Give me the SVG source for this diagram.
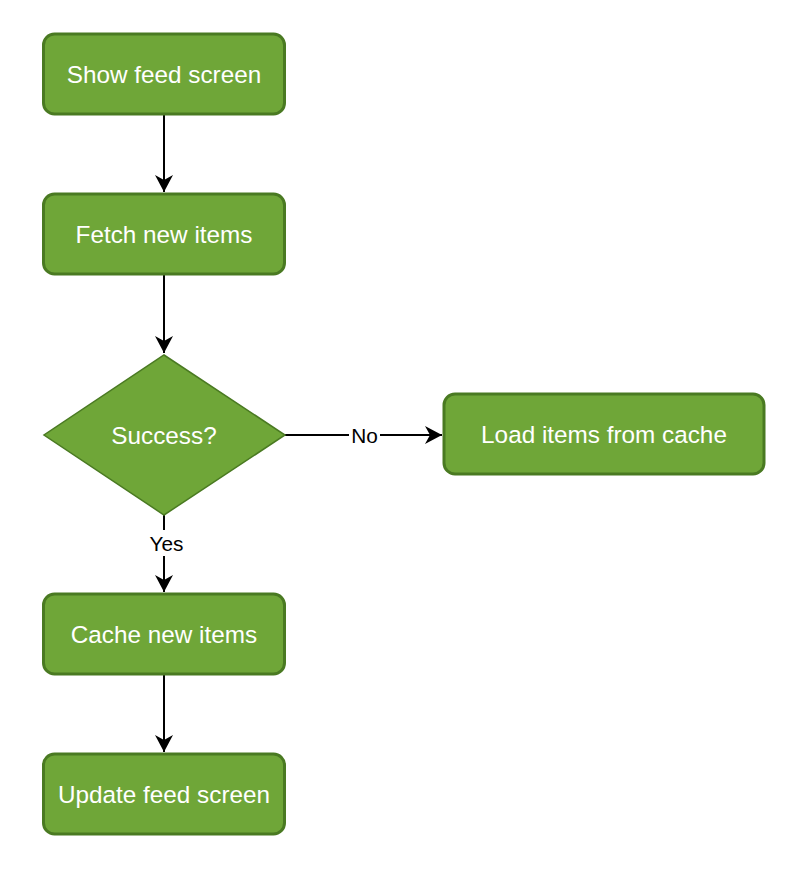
<svg xmlns="http://www.w3.org/2000/svg" width="792" height="872" viewBox="0 0 792 872">
<style>
.box{fill:#6fa638;stroke:#4a7a22;stroke-width:3}
.dia{fill:#6fa638;stroke:#4a7a22;stroke-width:1.5}
.t{font-family:"Liberation Sans",Arial,sans-serif;font-size:24.3px;fill:#fff;text-anchor:middle}
.lbl{font-family:"Liberation Sans",Arial,sans-serif;font-size:20.8px;fill:#000;text-anchor:middle}
.edge{stroke:#000;stroke-width:2;fill:none}
</style>
<defs>
<marker id="arr" markerUnits="userSpaceOnUse" viewBox="-18 -10 20 20" refX="0" refY="0" markerWidth="20" markerHeight="20" orient="auto">
<path d="M0,0 L-17,-9 L-12,0 L-17,9 Z" fill="#000"/>
</marker>
</defs>
<rect width="792" height="872" fill="#fff"/>
<g id="connectors">
<path class="edge" d="M164,114 V192" marker-end="url(#arr)"/>
<path class="edge" d="M164,274 V353" marker-end="url(#arr)"/>
<path class="edge" d="M285,435 H442" marker-end="url(#arr)"/>
<path class="edge" d="M164,515 V592" marker-end="url(#arr)"/>
<path class="edge" d="M164,674 V752" marker-end="url(#arr)"/>
<rect x="349" y="423" width="31" height="24" fill="#fff"/>
<text class="lbl" x="364.5" y="442.5">No</text>
<rect x="148" y="530" width="34" height="26" fill="#fff"/>
<text class="lbl" x="166.5" y="550.5">Yes</text>
</g>
<g id="show-feed">
<rect class="box" x="43.5" y="34" width="241" height="80" rx="11"/>
<text class="t" x="164" y="82.5">Show feed screen</text>
</g>
<g id="fetch-items">
<rect class="box" x="43.5" y="194" width="241" height="80" rx="11"/>
<text class="t" x="164" y="242.5">Fetch new items</text>
</g>
<g id="success">
<path class="dia" d="M164,355 L285,435 L164,515 L44,435 Z"/>
<text class="t" x="164" y="443.5">Success?</text>
</g>
<g id="load-cache">
<rect class="box" x="444" y="394" width="320" height="80" rx="11"/>
<text class="t" x="604" y="442.5">Load items from cache</text>
</g>
<g id="cache-items">
<rect class="box" x="43.5" y="594" width="241" height="80" rx="11"/>
<text class="t" x="164" y="642.5">Cache new items</text>
</g>
<g id="update-feed">
<rect class="box" x="43.5" y="754" width="241" height="80" rx="11"/>
<text class="t" x="164" y="802.5">Update feed screen</text>
</g>
</svg>
